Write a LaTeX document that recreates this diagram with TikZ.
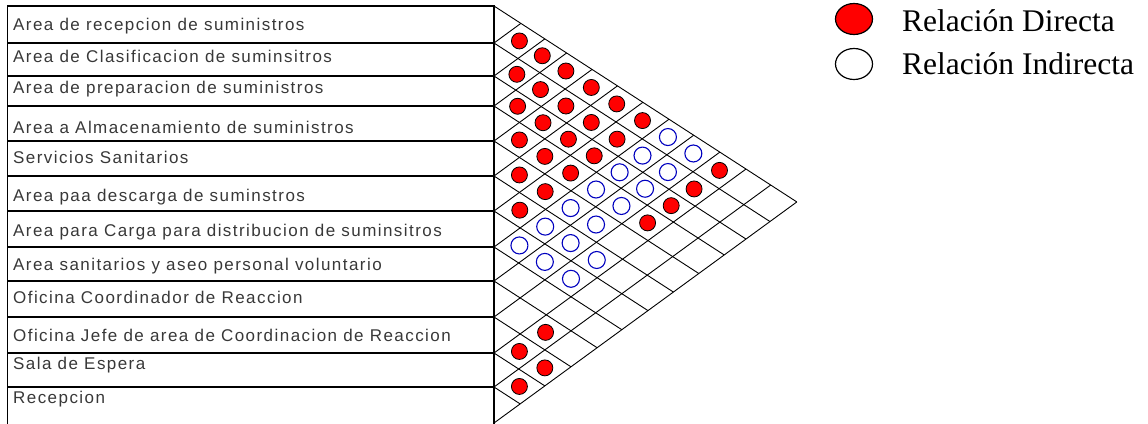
\documentclass[tikz,border=0pt]{standalone}
\usepackage{fontspec}
\setmainfont{Liberation Serif}
\newfontfamily\lblfont[LetterSpace=8.5]{Liberation Sans}
\usetikzlibrary{shapes.geometric}
\begin{document}
\begin{tikzpicture}[x=1pt,y=-1pt,
  tbl/.style={draw=black,line width=1.2pt},
  gridln/.style={draw=black,line width=0.9pt},
  lbl/.style={font=\lblfont\fontsize{17}{17}\selectfont, text=black!78, anchor=base west, inner sep=0pt},
  reddot/.style={circle, draw=black, line width=0.8pt, fill=red, minimum size=16pt, inner sep=0pt},
  bluedot/.style={circle, draw=blue!75!black, line width=1.1pt, fill=white, minimum size=17pt, inner sep=0pt},
  legtxt/.style={font=\fontsize{31.5}{31.5}\selectfont, anchor=base west, inner sep=0pt},
  legell/.style={ellipse, draw=black, line width=1.2pt, minimum width=37pt, minimum height=31pt, inner sep=0pt}
]
\useasboundingbox (0,0) rectangle (1148,423);
\clip (0,0) rectangle (1148,423);
\def\B{{6,43,76,106,141,176,211,247,281,317,353,387,423}}
\def\sa{0.647}
\def\sc{0.73}
% table
\draw[tbl] (7.5,424) -- (7.5,6) -- (494,6) -- (494,424);
\foreach \k in {1,...,11}{
  \pgfmathsetmacro\bk{\B[\k]}
  \draw[tbl] (7.5,\bk) -- (494,\bk);
}
% labels
\foreach \n/\yb/\txt in {1/30.5/Area de recepcion de suministros,
  2/62/Area de Clasificacion de suminsitros,
  3/93.6/Area de preparacion de suministros,
  4/133/Area a Almacenamiento de suministros,
  5/163.5/Servicios Sanitarios,
  6/201/Area paa descarga de suminstros,
  7/236/Area para Carga para distribucion de suminsitros,
  8/270/Area sanitarios y aseo personal voluntario,
  9/303/Oficina Coordinador de Reaccion,
  10/341/Oficina Jefe de area de Coordinacion de Reaccion,
  11/369.5/Sala de Espera,
  12/403.5/Recepcion}{
  \node[lbl] (r\n) at (13,\yb) {\txt};
}
% lattice
\foreach \k in {0,...,11}{
  \pgfmathsetmacro\bk{\B[\k]}
  \pgfmathsetmacro\dx{(423-\bk)/(\sa+\sc)}
  \draw[gridln] (494,\bk) -- ++(\dx,\sa*\dx);
}
\foreach \k in {1,...,12}{
  \pgfmathsetmacro\bk{\B[\k]}
  \pgfmathsetmacro\dx{(\bk-6)/(\sa+\sc)}
  \draw[gridln] (494,\bk) -- ++(\dx,-\sc*\dx);
}
% relation marks
\foreach \i/\j/\t in {1/2/reddot,2/3/reddot,3/4/reddot,4/5/reddot,5/6/reddot,6/7/reddot,7/8/bluedot,10/11/reddot,11/12/reddot,
  1/3/reddot,2/4/reddot,3/5/reddot,4/6/reddot,5/7/reddot,6/8/bluedot,7/9/bluedot,9/11/reddot,10/12/reddot,
  1/4/reddot,2/5/reddot,3/6/reddot,4/7/reddot,5/8/bluedot,6/9/bluedot,7/10/bluedot,
  1/5/reddot,2/6/reddot,3/7/reddot,4/8/bluedot,5/9/bluedot,6/10/bluedot,
  1/6/reddot,2/7/reddot,3/8/bluedot,4/9/bluedot,
  1/7/reddot,2/8/bluedot,3/9/bluedot,4/10/reddot,
  1/8/bluedot,2/9/bluedot,3/10/reddot,
  1/9/bluedot,2/10/reddot,
  1/10/reddot}{
  \pgfmathtruncatemacro\im{\i-1}
  \pgfmathtruncatemacro\jm{\j-1}
  \pgfmathsetmacro\bia{\B[\im]}
  \pgfmathsetmacro\bib{\B[\i]}
  \pgfmathsetmacro\bja{\B[\jm]}
  \pgfmathsetmacro\bjb{\B[\j]}
  \pgfmathsetmacro\ci{(\bia+\bib)/2}
  \pgfmathsetmacro\cj{(\bja+\bjb)/2}
  \pgfmathsetmacro\dx{(\cj-\ci)/(\sa+\sc)}
  \pgfmathsetmacro\cx{494+\dx}
  \pgfmathsetmacro\cy{\ci+\sa*\dx}
  \node[\t] (c\i-\j) at (\cx,\cy) {};
}
% legend
\node[legell, fill=red] (ld) at (854,19) {};
\node[legell, fill=white] (li) at (854,64) {};
\node[legtxt] (td) at (902,31) {Relación Directa};
\node[legtxt] (ti) at (902,74) {Relación Indirecta};
\end{tikzpicture}
\end{document}
